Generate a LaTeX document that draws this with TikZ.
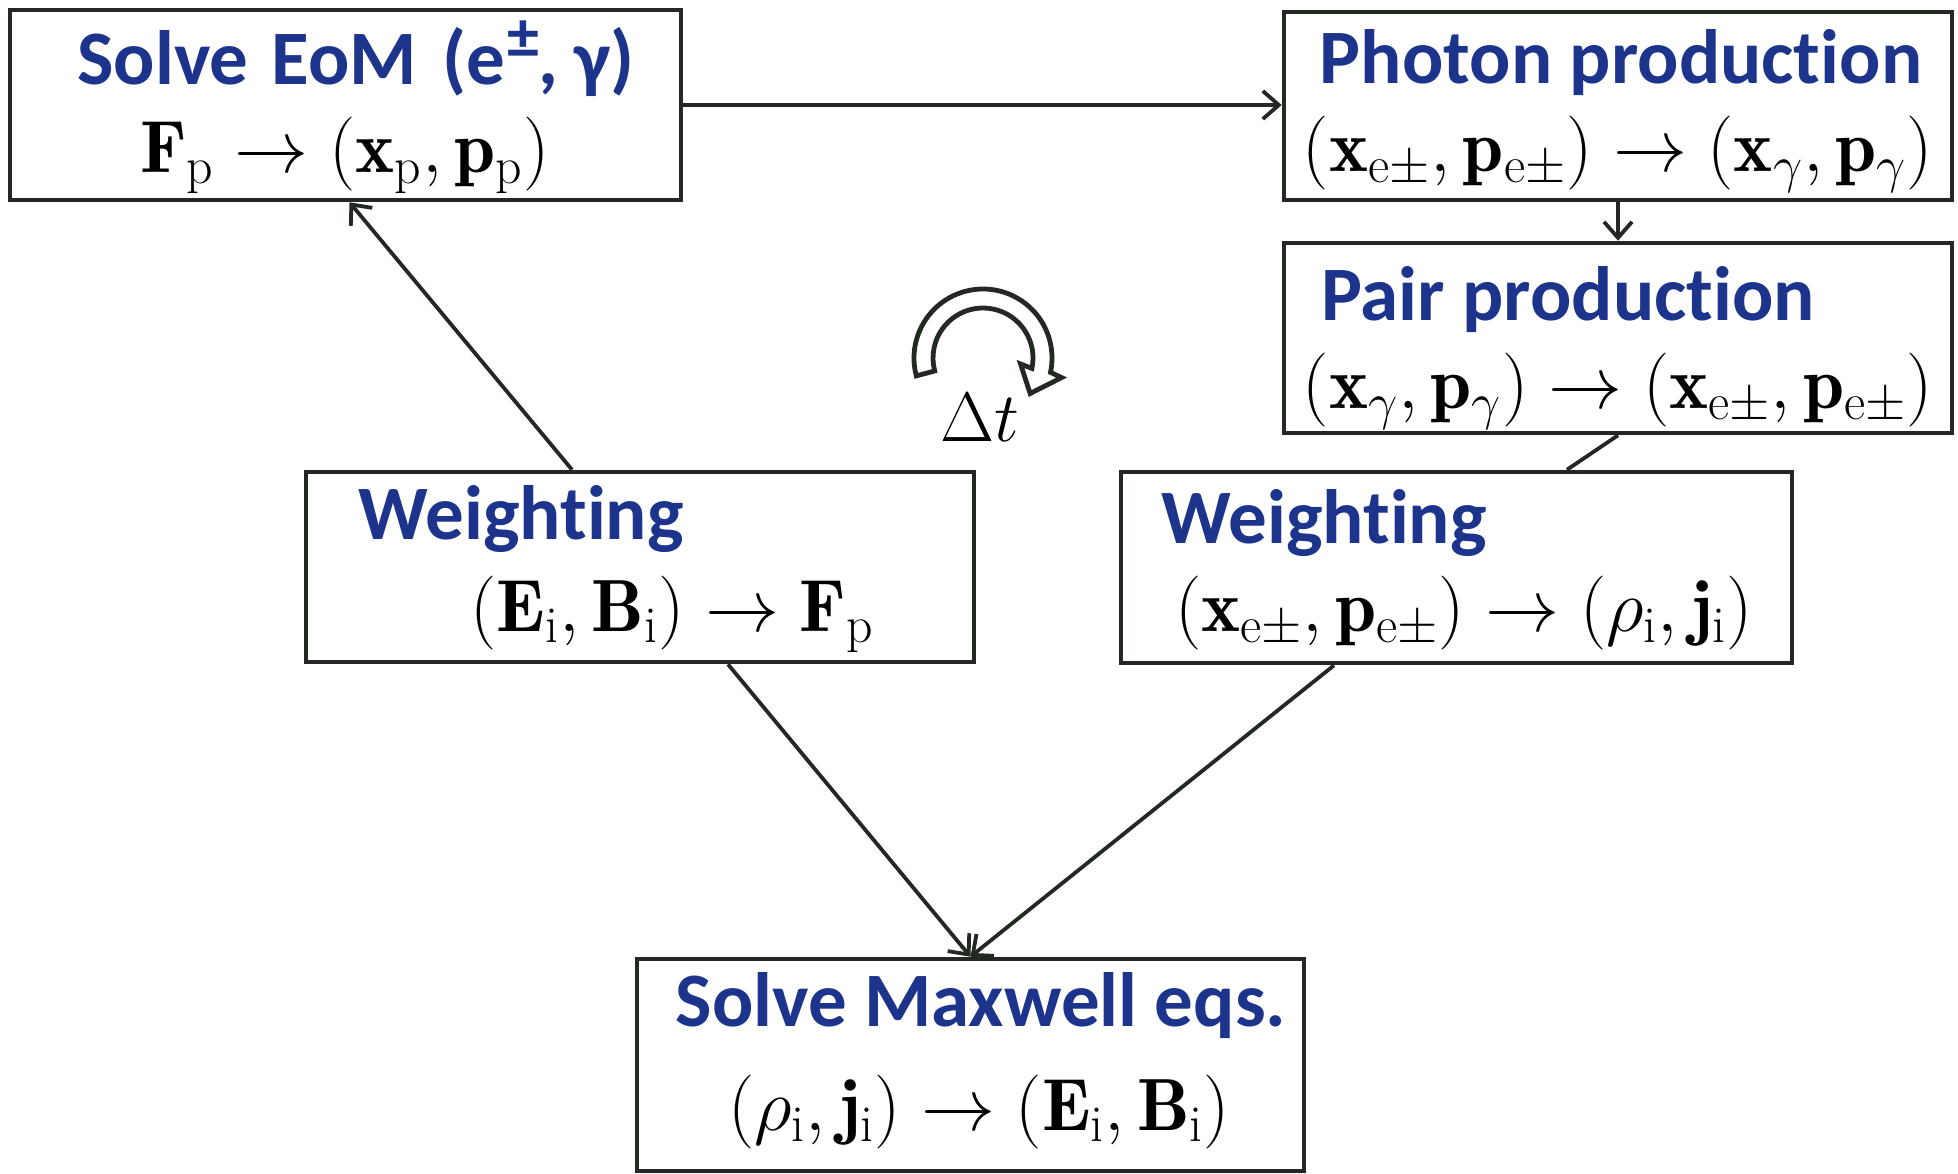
\RequirePackage{fix-cm}
\documentclass[tikz,border=0pt]{standalone}
\usepackage{fontspec}
\newfontfamily\headfont{Carlito}[RawFeature=-liga]
\usetikzlibrary{arrows.meta,calc}
\definecolor{headblue}{RGB}{28,52,140}
\definecolor{linecol}{RGB}{35,40,35}
\begin{document}
\begin{tikzpicture}[x=0.5pt,y=-0.5pt,
  box/.style={draw=linecol, line width=2.3pt, fill=white, inner sep=0pt, rectangle},
  head/.style={inner sep=0pt, text=headblue, font=\headfont\bfseries\fontsize{38.5}{44}\selectfont},
  eq/.style={inner sep=0pt, font=\fontsize{37}{44}\selectfont},
  conn/.style={draw=linecol, line width=1.9pt},
  arr/.style={conn, -{Straight Barb[length=8pt,width=14pt,line width=1.9pt]}},
]
\useasboundingbox (0,0) rectangle (1958,1173);
\fill[white] (0,0) rectangle (1958,1173);

% boxes
\node[box, minimum width=335.5pt, minimum height=95pt] (eom) at (345.5,105) {};
\node[box, minimum width=334pt, minimum height=94pt] (photon) at (1618,106) {};
\node[box, minimum width=334pt, minimum height=95pt] (pair) at (1618,338) {};
\node[box, minimum width=334pt, minimum height=95pt] (wl) at (640,567) {};
\node[box, minimum width=335.5pt, minimum height=95.5pt] (wr) at (1456.5,567.5) {};
\node[box, minimum width=333.5pt, minimum height=106pt] (maxw) at (970.5,1065) {};

% texts
\node[head, anchor=base] (eomh) at (356,84) {Solve\hspace{3pt} EoM\hspace{4pt} (e\hspace{1pt}\raisebox{13pt}{\fontsize{32}{32}\selectfont ±},\hspace{8pt}γ)};
\node[eq, anchor=base] (eomm) at (345,172) {$\mathbf{F}_{\mathrm{p}}\rightarrow(\mathbf{x}_{\mathrm{p}},\mathbf{p}_{\mathrm{p}})$};

\node[head, anchor=base] (phh) at (1621,83) {Photon production};
\node[eq, anchor=base] (phm) at (1618,171) {$(\mathbf{x}_{\mathrm{e}\pm},\mathbf{p}_{\mathrm{e}\pm})\rightarrow(\mathbf{x}_{\gamma},\mathbf{p}_{\gamma})$};

\node[head, anchor=base west] (pah) at (1321,320) {Pair production};
\node[eq, anchor=base] (pam) at (1618,408) {$(\mathbf{x}_{\gamma},\mathbf{p}_{\gamma})\rightarrow(\mathbf{x}_{\mathrm{e}\pm},\mathbf{p}_{\mathrm{e}\pm})$};

\node[head, anchor=base west] (wlh) at (358,539) {Weighting};
\node[eq, anchor=base] (wlm) at (672,631) {$(\mathbf{E}_{\mathrm{i}},\mathbf{B}_{\mathrm{i}})\rightarrow\mathbf{F}_{\mathrm{p}}$};

\node[head, anchor=base west] (wrh) at (1161,543) {Weighting};
\node[eq, anchor=base] (wrm) at (1464,631) {$(\mathbf{x}_{\mathrm{e}\pm},\mathbf{p}_{\mathrm{e}\pm})\rightarrow(\rho_{\mathrm{i}},\mathbf{j}_{\mathrm{i}})$};

\node[head, anchor=base] (mxh) at (981,1026) {Solve Maxwell eqs.};
\node[eq, anchor=base] (mxm) at (979,1130) {$(\rho_{\mathrm{i}},\mathbf{j}_{\mathrm{i}})\rightarrow(\mathbf{E}_{\mathrm{i}},\mathbf{B}_{\mathrm{i}})$};

\node[eq, font=\fontsize{35}{40}\selectfont, anchor=base] (dt) at (980,441) {$\Delta t$};

% connectors
\draw[arr] (eom.east) -- (eom.east -| photon.west);
\draw[arr] (photon.south) -- (pair.north);
\draw[conn] (pair.south) -- ([xshift=55.25pt]wr.north);
\draw[arr] ([xshift=-34pt]wl.north) -- ([xshift=2pt]eom.south);
\draw[arr] ([xshift=44pt]wl.south) -- (maxw.north);
\draw[arr] ([xshift=-61.25pt]wr.south) -- (maxw.north);

% cycle arrow
\begin{scope}[shift={(983,358)}, yscale=-1]
\draw[draw=linecol, line width=2.4pt, fill=white, line join=miter]
 (195:69) arc[start angle=195, end angle=-12, radius=69]
 -- (-14:81) -- (-37:59) -- (-9:38) -- (-12:50)
 arc[start angle=-12, end angle=195, radius=50] -- cycle;
\end{scope}
\end{tikzpicture}
\end{document}
